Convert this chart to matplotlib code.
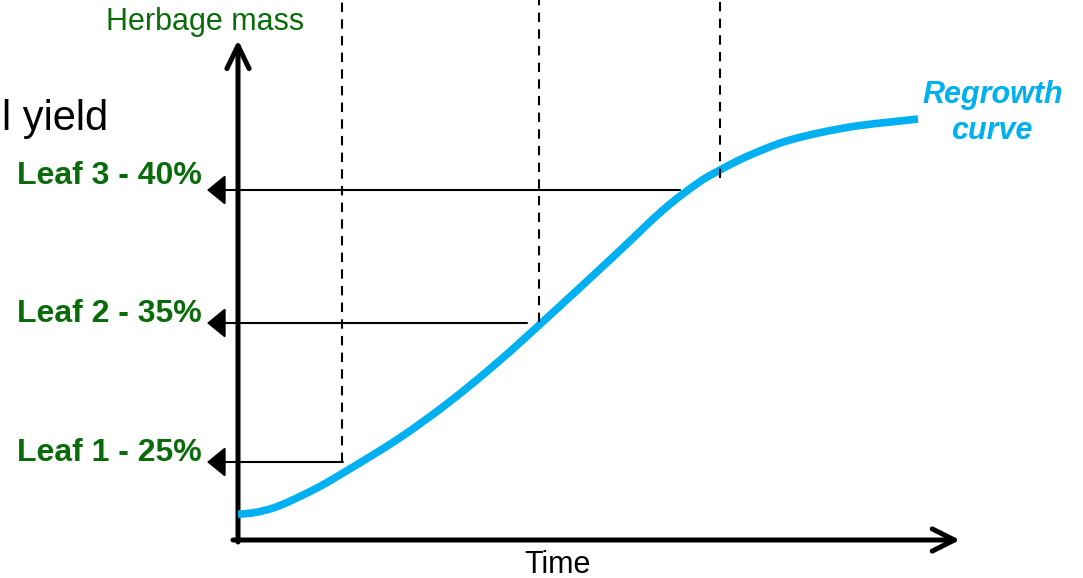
import numpy as np
import matplotlib.pyplot as plt
from matplotlib.patches import FancyArrowPatch, PathPatch
from matplotlib.path import Path

plt.rcParams['font.family'] = ['Liberation Sans', 'DejaVu Sans']

# regrowth curve: days since grazing vs herbage mass (kg DM/ha)
days = [0, 1.75, 3.75, 5.25, 8, 10.5, 13, 15.5, 18.75, 21.25, 23, 24.1, 25.5, 27.6, 30.6, 34]
mass = [208, 256, 400, 536, 808, 1096, 1424, 1784, 2264, 2640, 2856, 2960, 3072, 3200, 3304, 3368]

# leaf stages
leaf_labels = ['Leaf 1 - 25%', 'Leaf 2 - 35%', 'Leaf 3 - 40%']
leaf_mass = [624, 1736, 2800]
leaf_line_end = [5.25, 14.45, 22.1]
leaf_day = [5.2, 15.05, 24.1]
leaf_dash_bottom = [624, 1744, 2896]

green = '#0a6b0a'
blue = '#00b0f0'


def smooth_path(x, y):
    # Catmull-Rom through the points, written as cubic Bezier segments;
    # the curve leaves the first point flat
    p = np.column_stack([x, y]).astype(float)
    n = len(p)
    tang = np.zeros_like(p)
    tang[1:-1] = (p[2:] - p[:-2]) / 2
    tang[0] = [p[1, 0] - p[0, 0], 0]
    tang[-1] = p[-1] - p[-2]
    verts = [p[0]]
    codes = [Path.MOVETO]
    for i in range(n - 1):
        verts += [p[i] + tang[i] / 3, p[i + 1] - tang[i + 1] / 3, p[i + 1]]
        codes += [Path.CURVE4] * 3
    return Path(verts, codes)


fig = plt.figure(figsize=(10.83, 5.78), dpi=100)
ax = fig.add_axes([0, 0, 1, 1])
ax.set_xlim(-11.9, 42.25)
ax.set_ylim(-304, 4320)
ax.axis('off')

# vertical dashed markers for each leaf stage
ax.vlines(leaf_day, leaf_dash_bottom, 4400, colors='black', lw=1.5,
          linestyles=(0, (4.5, 3.5)))

# arrows pointing back to the mass axis
for x_end, m in zip(leaf_line_end, leaf_mass):
    ax.add_patch(FancyArrowPatch((x_end, m), (-1.55, m),
                                 arrowstyle='-|>,head_length=11.5,head_width=9.4',
                                 mutation_scale=1, shrinkA=0, shrinkB=0,
                                 color='black', lw=1.5))

for lab, m, off in zip(leaf_labels, leaf_mass, [8, 8, 48]):
    ax.text(-1.8, m + off, lab, ha='right', va='baseline', color=green,
            fontsize=23, fontweight='bold')

# axes drawn as arrows
ax.add_patch(FancyArrowPatch((0, -16), (0, 4000),
                             arrowstyle='->,head_length=16.5,head_width=8',
                             mutation_scale=1, shrinkA=0, shrinkB=0,
                             color='black', lw=3.6, capstyle='round'))
ax.add_patch(FancyArrowPatch((-0.25, 0), (36.1, 0),
                             arrowstyle='->,head_length=16,head_width=8',
                             mutation_scale=1, shrinkA=0, shrinkB=0,
                             color='black', lw=3.6, capstyle='round'))

ax.add_patch(PathPatch(smooth_path(days, mass), fill=False, edgecolor=blue,
                       lw=5.5, capstyle='butt', joinstyle='round'))

ax.text(-1.65, 4144, 'Herbage mass', ha='center', va='center', color=green,
        fontsize=22)
ax.text(-11.8, 3280, 'l yield', ha='left', va='baseline', color='black', fontsize=30)
ax.text(16, -264, 'Time', ha='center', va='baseline', color='black', fontsize=22)
ax.text(37.75, 3496, 'Regrowth', ha='center', va='baseline', color=blue,
        fontsize=22, fontweight='bold', fontstyle='italic')
ax.text(37.7, 3208, 'curve', ha='center', va='baseline', color=blue,
        fontsize=22, fontweight='bold', fontstyle='italic')

fig.savefig('out.png', dpi=100)
